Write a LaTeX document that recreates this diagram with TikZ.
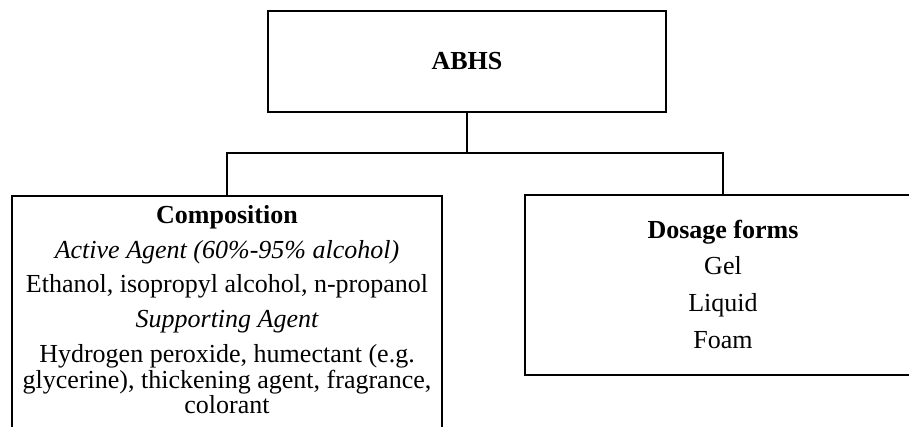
\documentclass[tikz,border=0pt]{standalone}
\usepackage{fontspec}
\setmainfont{Liberation Serif}
\begin{document}
\begin{tikzpicture}[x=1pt,y=-1pt,
  box/.style={draw,line width=1.6pt,inner sep=0pt},
  txt/.style={anchor=base,inner sep=0pt,font=\fontsize{26}{30}\selectfont},
  btxt/.style={anchor=base,inner sep=0pt,font=\fontsize{26}{30}\selectfont\bfseries},
  itxt/.style={anchor=base,inner sep=0pt,font=\fontsize{26}{30}\selectfont\itshape},
  conn/.style={line width=1.6pt}]
\useasboundingbox (0,0) rectangle (909,427);
% boxes
\node[box,minimum width=398pt,minimum height=101pt] (top) at (467,61.5) {};
\node[box,minimum width=430pt,minimum height=250pt] (left) at (227,321) {};
\node[box,minimum width=396pt,minimum height=180pt] (right) at (723,285) {};
% connectors
\coordinate (bus) at (467,153);
\draw[conn] (top.south) -- (bus);
\draw[conn] (left.north) |- (bus) -| (right.north);
% top text
\node[btxt] (abhs) at (467,70) {ABHS};
% left text
\node[btxt] (comp) at (227,224) {Composition};
\node[itxt] (act) at (227,259) {Active Agent (60\%-95\% alcohol)};
\node[txt] (eth) at (227,292.5) {Ethanol, isopropyl alcohol, n-propanol};
\node[itxt] (sup) at (227,327.5) {Supporting Agent};
\node[txt] (hyd1) at (227,362) {Hydrogen peroxide, humectant (e.g.};
\node[txt] (hyd2) at (227,388) {glycerine), thickening agent, fragrance,};
\node[txt] (hyd3) at (227,413) {colorant};
% right text
\node[btxt] (dos) at (723,239) {Dosage forms};
\node[txt] (gel) at (723,275) {Gel};
\node[txt] (liq) at (723,311) {Liquid};
\node[txt] (foam) at (723,348) {Foam};
\end{tikzpicture}
\end{document}
